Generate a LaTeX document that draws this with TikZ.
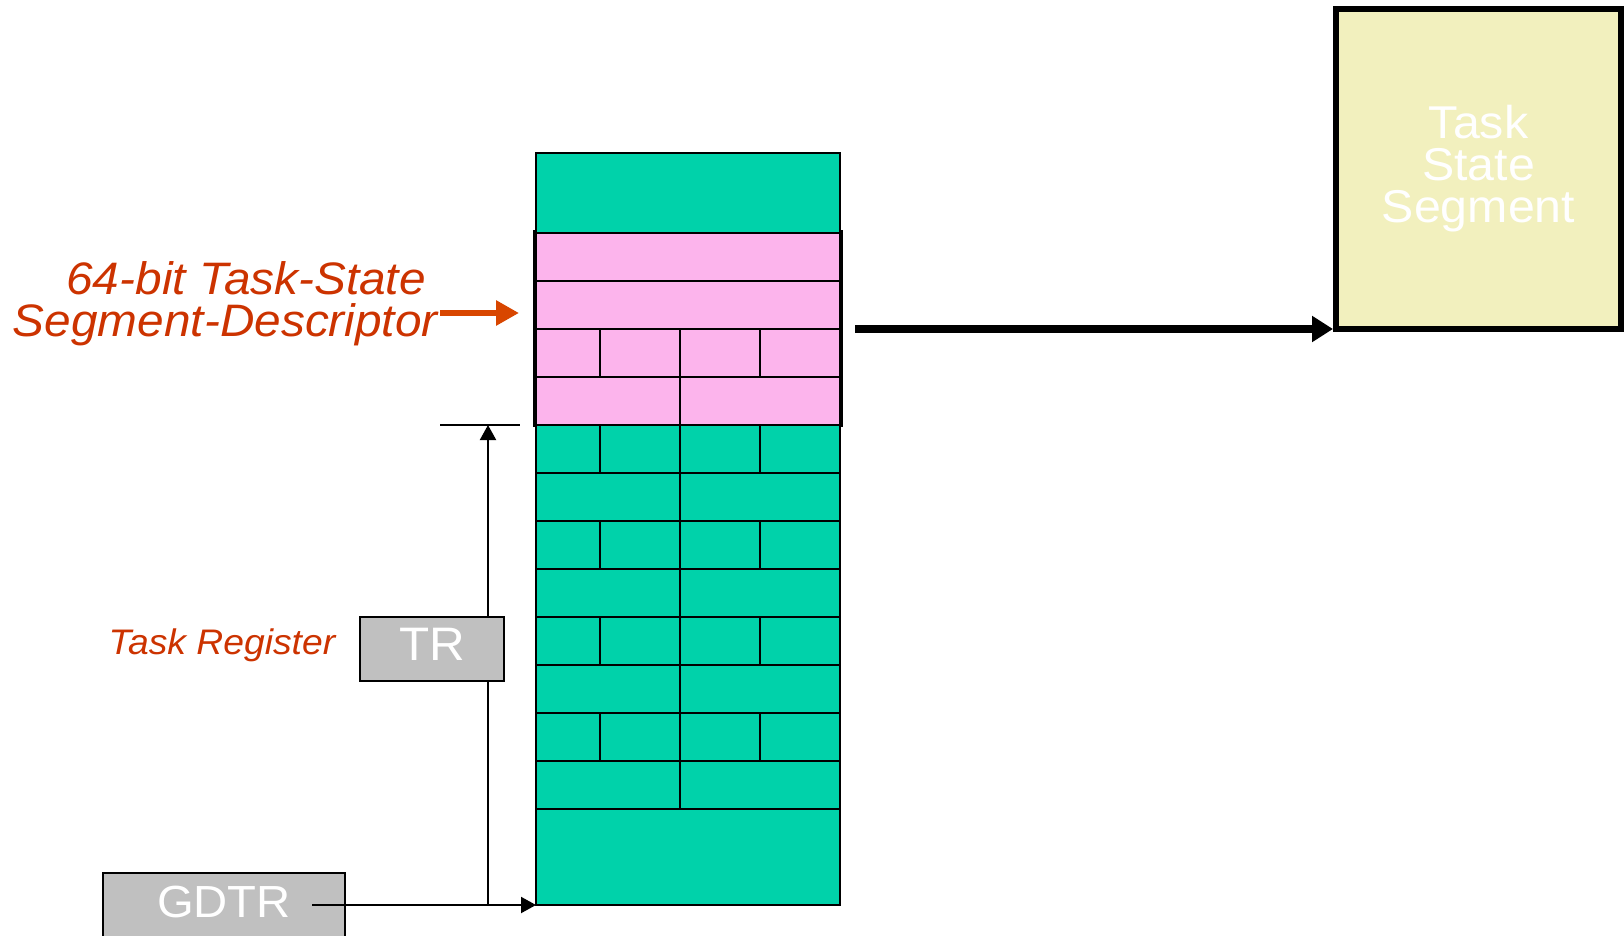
\documentclass[tikz,border=0pt]{standalone}
\usepackage{fontspec}
\setmainfont{Liberation Sans}[FakeStretch=1.05]
\usepackage{tikz}
\usetikzlibrary{arrows.meta}
\usepackage{xcolor}
\definecolor{gdtgreen}{RGB}{0,210,170}
\definecolor{descpink}{RGB}{252,180,236}
\definecolor{tssyellow}{RGB}{242,240,190}
\definecolor{reggray}{RGB}{192,192,192}
\definecolor{labelred}{RGB}{204,51,0}
\definecolor{pointred}{RGB}{216,70,0}
\tikzset{
	cell/.style={line width=2pt},
	reg/.style={draw,line width=2pt,fill=reggray,text=white,inner sep=0pt,outer sep=0pt},
	thinarrow/.style={line width=2pt,-{Triangle[length=15pt,width=16pt]}},
	bigarrow/.style={line width=8pt,-{Triangle[length=21pt,width=25pt]}},
	pointer/.style={draw=pointred,line width=6pt,-{Triangle[length=23pt,width=24pt]}}
}

\begin{document}
\begin{tikzpicture}[x=1pt,y=-1pt]
		\useasboundingbox (0,0) rectangle (1624,936);
		\clip (0,0) rectangle (1624,936);
		% descriptor table
		\node [cell,draw,fill=gdtgreen,minimum width=304pt,minimum height=752pt,inner sep=0pt,outer sep=0pt] (gdt) at (688,529) {};
		\node [cell,draw,fill=descpink,minimum width=304pt,minimum height=192pt,inner sep=0pt,outer sep=0pt] (desc) at (688,329) {};
		\foreach \k in {1,...,12}
			\draw [cell] (536,{233+48*\k}) -- (840,{233+48*\k});
		\draw [cell] (680,329) -- (680,809);
		\foreach \k in {2,4,...,10}
			\draw [cell] (600,{233+48*\k}) -- ++(0,48) (760,{233+48*\k}) -- ++(0,48);
		\draw [line width=3.4pt] (535,230) -- (535,427) (841,230) -- (841,427);
		
		% task state segment
		\node [draw,line width=6pt,fill=tssyellow,text=white,minimum width=285pt,minimum height=320pt,align=center,font=\fontsize{46}{42}\selectfont] (tss) at (1478.5,169) {Task\\State\\Segment};
		\draw [bigarrow] ([xshift=15pt]desc.east) -- (desc.east -| tss.west);
		
		% registers
		\node [reg,minimum width=144pt,minimum height=64pt,text depth=10pt,font=\fontsize{47}{56}\selectfont] (tr) at (432,649) {TR};
		\node [reg,minimum width=242pt,minimum height=64pt,text depth=7pt,font=\fontsize{45}{50}\selectfont] (gdtr) at (224,905) {GDTR};
		\node [text=labelred,font=\itshape\fontsize{35.5}{42}\selectfont,anchor=base,inner sep=0pt] (trname) at (222,654) {Task Register};
		\node [text=labelred,font=\itshape\fontsize{45.5}{42}\selectfont,align=right,anchor=east,inner sep=0pt] (title) at (438,304) {64-bit Task-State\rule{12pt}{0pt}\\Segment-Descriptor};
		
		\draw [thinarrow] ([xshift=-33pt]gdtr.east) -- (gdt.south west);
		\coordinate (sel) at ([xshift=-16pt]tr.east |- gdt.south);
		\draw [cell] (sel) -- (sel |- tr.south);
		\draw [thinarrow] (sel |- tr.north) -- (sel |- desc.south);
		\draw [cell] ([xshift=-96pt]desc.south west) -- ([xshift=-16pt]desc.south west);
		\draw [pointer] ([xshift=2pt,yshift=-9pt]title.east) -- ([xshift=-17pt,yshift=16pt]desc.west);
\end{tikzpicture}
\end{document}
